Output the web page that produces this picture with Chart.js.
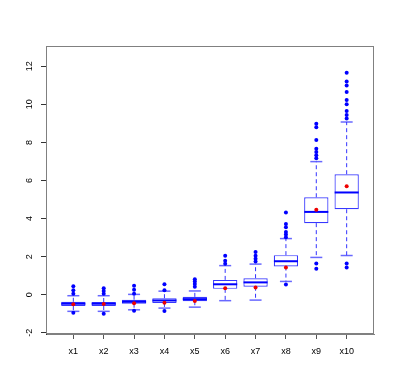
<!DOCTYPE html>
<html><head><meta charset="utf-8">
<script src="https://cdn.jsdelivr.net/npm/chart.js@4/dist/chart.umd.min.js"></script>
<style>html,body{margin:0;padding:0;background:#fff}#wrap{width:398px;height:392px}</style>
</head><body><div id="wrap"><canvas id="c" width="398" height="392"></canvas></div>
<script>
const categories = ["x1","x2","x3","x4","x5","x6","x7","x8","x9","x10"];
const lowerWhisker = [-0.87, -0.87, -0.79, -0.70, -0.65, -0.31, -0.28, 0.70, 1.96, 2.06];
const q1           = [-0.59, -0.59, -0.47, -0.43, -0.34, 0.31, 0.42, 1.48, 3.76, 4.49];
const median       = [-0.47, -0.47, -0.37, -0.30, -0.23, 0.55, 0.65, 1.76, 4.35, 5.37];
const q3           = [-0.37, -0.38, -0.26, -0.18, -0.11, 0.78, 0.87, 2.08, 5.12, 6.33];
const upperWhisker = [-0.05, -0.05, 0.02, 0.19, 0.20, 1.53, 1.61, 2.95, 6.99, 9.07];
const means        = [-0.50, -0.48, -0.45, -0.42, -0.33, 0.34, 0.38, 1.43, 4.46, 5.70];
const outliers = [
  [0.05, 0.24, 0.45, -0.95],
  [0.05, 0.20, 0.34, -1.00],
  [0.05, 0.26, 0.47, -0.84],
  [0.24, 0.55, -0.85],
  [0.42, 0.56, 0.70, 0.82],
  [1.63, 1.79, 2.05],
  [1.75, 1.89, 2.05, 2.24],
  [3.02, 3.16, 3.29, 3.55, 3.71, 4.32, 0.54],
  [7.17, 7.32, 7.50, 7.66, 8.13, 8.79, 8.98, 1.64, 1.36],
  [9.26, 9.44, 9.65, 10.00, 10.23, 10.65, 10.99, 11.20, 11.66, 1.64, 1.43]
];
const yTicks = [-2, 0, 2, 4, 6, 8, 10, 12];
const yRange = [-2.06, 13.06];
const xRange = [0.1, 10.9];

const BLUE = '#0000ff';
const pos = categories.map((c, i) => i + 1);

const boxData = pos.map((x, i) => ({x, y: [q1[i], q3[i]]}));
const medianData = pos.map((x, i) => ({x, y: median[i]}));
const meanData = pos.map((x, i) => ({x, y: means[i]}));
const capData = [];
const whiskerData = [];
const outlierData = [];
pos.forEach((x, i) => {
  capData.push({x, y: upperWhisker[i]}, {x, y: lowerWhisker[i]});
  whiskerData.push({x, y: q3[i]}, {x, y: upperWhisker[i]}, {x, y: null},
                   {x, y: q1[i]}, {x, y: lowerWhisker[i]}, {x, y: null});
  outliers[i].forEach(v => outlierData.push({x, y: v}));
});

const framePlugin = {
  id: 'frame',
  beforeDatasetsDraw(chart) {
    const a = chart.chartArea, ctx = chart.ctx;
    ctx.save();
    ctx.strokeStyle = '#808080';
    ctx.lineWidth = 1;
    ctx.strokeRect(Math.round(a.left) + 0.5, Math.round(a.top) + 0.5,
                   Math.round(a.right - a.left) - 1, Math.round(a.bottom - a.top) - 1);
    ctx.restore();
  }
};

Chart.defaults.font.family = '"Liberation Sans", Arial, sans-serif';
Chart.defaults.font.size = 9;
Chart.defaults.color = '#000';

new Chart(document.getElementById('c'), {
  type: 'bar',
  plugins: [framePlugin],
  data: {
    datasets: [
      {type: 'scatter', order: 0, data: meanData, pointRadius: 2, backgroundColor: '#ee0000', borderWidth: 0, pointHoverRadius: 2},
      {type: 'scatter', order: 1, data: outlierData, pointRadius: 2, backgroundColor: BLUE, borderWidth: 0, pointHoverRadius: 2},
      {type: 'scatter', order: 2, data: medianData, pointStyle: 'line', pointRadius: 12, borderColor: BLUE, borderWidth: 2, pointHoverRadius: 12},
      {type: 'scatter', order: 3, data: capData, pointStyle: 'line', pointRadius: 6, borderColor: 'rgba(40,40,255,0.7)', borderWidth: 1.5, pointHoverRadius: 6},
      {type: 'line', order: 4, data: whiskerData, borderColor: 'rgba(0,0,255,0.8)', borderWidth: 1, borderDash: [4, 3], pointRadius: 0, spanGaps: false, fill: false},
      {type: 'bar', order: 5, data: boxData, backgroundColor: '#ffffff', borderColor: 'rgba(20,20,255,0.85)', borderWidth: 1.2, borderSkipped: false, categoryPercentage: 1, barPercentage: 0.8}
    ]
  },
  options: {
    responsive: false,
    animation: false,
    devicePixelRatio: 1,
    layout: {padding: {top: 46, right: 24, left: 0, bottom: 0}},
    plugins: {legend: {display: false}, tooltip: {enabled: false}},
    scales: {
      x: {
        type: 'linear', min: xRange[0], max: xRange[1], offset: false,
        afterBuildTicks: s => { s.ticks = pos.map(v => ({value: v})); },
        afterFit: s => { s.height = 58; },
        ticks: {callback: v => categories[v - 1], padding: 7, maxRotation: 0, autoSkip: false, color: '#000'},
        grid: {drawOnChartArea: false, drawTicks: true, tickLength: 5, color: '#555', offset: false},
        border: {display: true, color: '#808080', width: 1}
      },
      y: {
        type: 'linear', min: yRange[0], max: yRange[1],
        afterBuildTicks: s => { s.ticks = yTicks.map(v => ({value: v})); },
        afterFit: s => { s.width = 46; },
        ticks: {minRotation: 90, maxRotation: 90, crossAlign: 'center', padding: 6, color: '#000'},
        grid: {drawOnChartArea: false, drawTicks: true, tickLength: 5, color: '#333'},
        border: {display: true, color: '#333', width: 1}
      }
    }
  }
});
</script></body></html>
